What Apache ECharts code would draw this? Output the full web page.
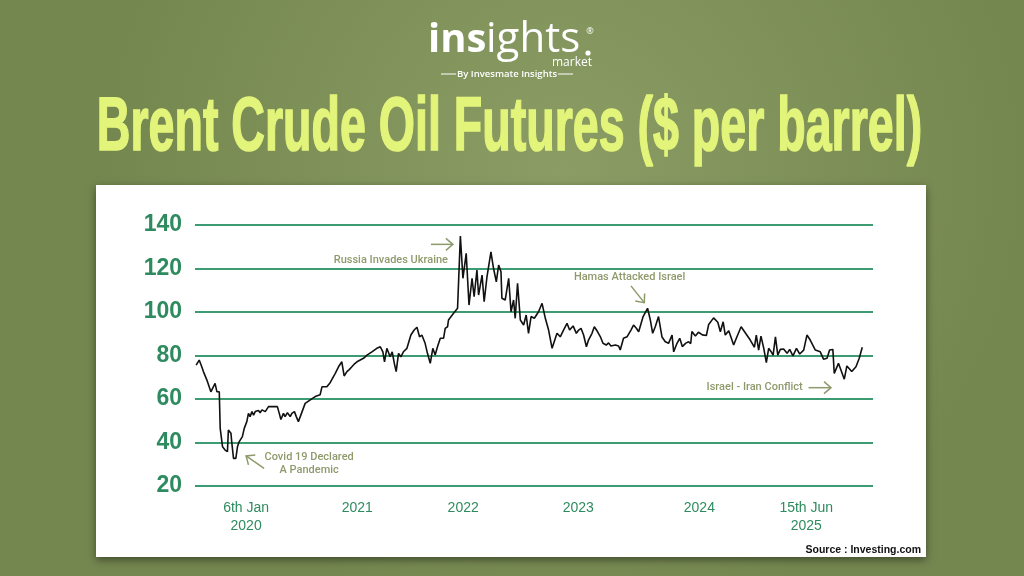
<!DOCTYPE html>
<html><head><meta charset="utf-8">
<script src="https://cdn.jsdelivr.net/npm/echarts@6/dist/echarts.min.js"></script>
<style>html,body{margin:0;padding:0;background:#7e9158}#c{width:1024px;height:576px}</style>
</head><body><div id="c"></div>
<script>
// weeks since 6 Jan 2020
const weeks = [0,1.3,2.4,3.1,3.9,4.6,5.3,6.3,7.0,8.1,8.9,9.9,10.3,11.3,12.4,13.4,13.8,14.9,15.3,16.0,17.0,17.7,18.4,19.2,19.8,20.6,21.7,22.4,23.1,23.9,24.6,25.3,26.0,26.7,27.4,28.2,29.6,31.0,33.1,34.8,35.6,36.3,37.4,38.1,39.1,40.3,41.0,42.1,42.9,43.8,44.6,46.7,48.9,51.0,53.1,53.9,56.0,57.4,59.6,61.0,62.4,63.4,64.6,65.6,66.7,67.7,68.9,70.3,71.7,73.2,75.3,77.4,78.9,80.0,80.7,81.7,83.1,84.0,84.9,85.7,86.7,87.7,88.8,90.3,92.0,93.4,94.6,95.7,96.7,98.1,99.1,100.3,101.4,102.4,103.4,104.6,106.0,106.7,107.7,108.1,110.3,112.0,113.2,114.3,115.7,116.9,118.2,119.1,120.3,121.0,122.5,123.4,124.6,126.3,127.4,128.6,129.6,130.6,131.0,132.4,133.9,134.9,136.0,136.7,137.7,138.9,140.3,141.4,142.4,143.5,144.9,146.7,148.2,149.6,151.0,152.5,153.9,154.6,156.0,157.4,158.9,160.0,161.5,162.9,163.9,164.9,166.0,167.2,168.1,169.6,170.6,172.0,173.2,174.3,175.7,176.7,177.7,179.6,181.0,181.7,183.1,184.6,186.3,187.4,188.6,189.6,191.5,193.4,194.6,195.6,196.7,198.1,199.6,201.0,202.4,203.9,204.6,205.9,207.2,208.3,209.8,211.0,211.9,212.4,213.9,215.2,216.9,218.6,219.6,221.7,223.5,224.6,225.8,226.7,228.2,230.3,231.7,233.5,235.7,237.4,239.2,240.0,241.0,242.0,243.2,244.3,245.3,246.2,247.2,248.2,249.2,250.3,251.7,253.2,254.3,255.7,257.2,258.6,260.3,261.7,263.1,265.3,267.4,268.8,270.3,271.4,272.8,273.4,275.2,277.7,278.8,280.9,282.7,284.1,285.4];
// Brent price, $ per barrel
const prices = [75.6,77.9,74.8,72.6,73.3,68.7,69.5,63.3,62.6,67.2,63.3,63.3,46.5,38,36.5,35.8,45.7,44.2,39.6,32.7,32.7,38,40.3,41.1,42.7,46.5,49.6,53.4,51.9,54.2,52.6,54.2,53.5,54.7,53.7,55,54.2,56.5,56.5,56.5,53.4,50.6,53.4,51.9,53.7,51.9,53.4,54.2,51.9,49.6,51.9,58,59.6,61.1,61.9,65.6,65.6,67.5,71.8,74.8,77.1,70.6,72.6,73.5,74.8,76,77.1,77.9,78.7,80.2,81.7,83.3,84,81.7,77.1,83.3,79.4,81.7,76.4,72.6,81,79.4,81.7,83.3,89.4,91.7,93,88.6,89.4,85.6,81,76.4,83.3,80.2,84,87.9,87.9,92.5,93.2,96.3,99.4,101.7,134.9,115.5,127,103.2,115.5,107,119.3,107.8,117,104.7,116.2,127.7,120.1,113.9,121.6,118.5,106.3,105.5,115.5,100.1,105.5,97.1,113.2,96.3,94,98.6,90.2,97.9,97.1,100.1,104,97.1,91.7,83.3,87.9,90.2,88.6,91.7,94.8,91.7,93.6,90.2,91.7,92.5,89.4,84,87.1,90.2,93.2,90.9,88.6,85.6,84.8,85.8,84.4,84.8,84.4,82.5,87.9,88.6,91.7,94,92.5,90.9,97.9,101.7,96.3,90.2,93.2,97.9,88.5,86.3,85.6,89.4,81.7,85.3,87.9,84.1,85.7,86.3,85.5,91,89,90.7,89.5,89.2,94.3,97.3,95.3,90.9,95.5,89.4,91.4,84.8,88.6,93.2,89.8,87.1,83.8,89.4,82.5,88.9,83.3,76.7,83.3,82,80.2,88.6,80.2,82.8,83,81,82.8,79.8,83.3,80.7,82.5,89.4,87.1,82.5,81.7,78.3,78.7,82.5,82.8,71.8,76.4,69.1,75.2,72.6,74.8,78.7,83.8];
const yTicks = [20, 40, 60, 80, 100, 120, 140];
const xTickWeeks = [21.4, 69, 114.4, 163.7, 215.6, 261.4];
const xTickLabels = ['6th Jan\n2020', '2021', '2022', '2023', '2024', '15th Jun\n2025'];
const annotations = [
  {text: 'Russia Invades Ukraine', at: [107.9, 123.9], align: 'right', arrow: [[100.6, 131.1], [110.0, 131.1]]},
  {text: 'Hamas Attacked Israel', at: [185.7, 116.2], align: 'center', arrow: [[186.3, 112.0], [192.0, 104.3]]},
  {text: 'Israel - Iran Conflict', at: [259.9, 65.2], align: 'right', arrow: [[262.4, 65.2], [272.0, 65.2]]},
  {text: 'Covid 19 Declared\nA Pandemic', at: [48.4, 30.2], align: 'center', arrow: [[29.1, 28.1], [21.4, 33.8]]}
];
const titleText = 'Brent Crude Oil Futures ($ per barrel)';
const sourceText = 'Source : Investing.com';

const n = Math.min(weeks.length, prices.length);
const seriesData = [];
for (let i = 0; i < n; i++) seriesData.push([weeks[i], prices[i]]);

const GREEN = '#2e8b5f', GRID = '#3c9b72', NOTE = '#8f9a6c';
const chart = echarts.init(document.getElementById('c'), null, {renderer: 'canvas'});

const staticGraphics = [
  {type: 'rect', id: 'bg', z: -10, shape: {x: 0, y: 0, width: 1024, height: 576}, silent: true,
    style: {fill: new echarts.graphic.RadialGradient(0.55, 0.3, 0.8, [
      {offset: 0, color: '#8b9d64'}, {offset: 1, color: '#74874f'}])}},
  {type: 'rect', id: 'panel', z: -5, shape: {x: 96, y: 185, width: 830, height: 372}, silent: true,
    style: {fill: '#ffffff', shadowBlur: 8, shadowOffsetY: 3, shadowColor: 'rgba(0,0,0,0.45)'}},
  {type: 'text', id: 'title', z: 5, x: 509.5, y: 129, scaleX: 0.776, scaleY: 1.28, silent: true,
    style: {text: titleText, fill: '#e3f47b', stroke: '#e3f47b', lineWidth: 1.3, font: 'bold 60px "Liberation Sans"', align: 'center', verticalAlign: 'middle'}},
  {type: 'text', id: 'logo1', z: 5, x: 428, y: 61, silent: true,
    style: {text: 'ins', fill: '#ffffff', font: 'bold 40px "Open Sans"', align: 'left', verticalAlign: 'bottom'}},
  {type: 'text', id: 'logo2', z: 5, x: 486, y: 61, silent: true,
    style: {text: 'ights', fill: '#ffffff', font: '500 42px "Open Sans"', align: 'left', verticalAlign: 'bottom'}},
  {type: 'circle', id: 'logodot', z: 5, shape: {cx: 588, cy: 53, r: 2.6}, style: {fill: '#ffffff'}},
  {type: 'text', id: 'logoR', z: 5, x: 590, y: 31, silent: true,
    style: {text: '®', fill: '#ffffff', font: '9px "Open Sans"', align: 'center', verticalAlign: 'middle'}},
  {type: 'text', id: 'logo3', z: 5, x: 592, y: 63, silent: true,
    style: {text: 'market', fill: '#ffffff', font: '12px "Open Sans"', align: 'right', verticalAlign: 'middle'}},
  {type: 'text', id: 'logo4', z: 5, x: 507, y: 74, silent: true,
    style: {text: 'By Invesmate Insights', fill: '#ffffff', font: '600 9.5px "Open Sans"', align: 'center', verticalAlign: 'middle'}},
  {type: 'line', id: 'll', z: 5, shape: {x1: 441, y1: 74, x2: 456, y2: 74}, style: {stroke: '#ffffff', lineWidth: 1}},
  {type: 'line', id: 'lr', z: 5, shape: {x1: 558, y1: 74, x2: 573, y2: 74}, style: {stroke: '#ffffff', lineWidth: 1}},
  {type: 'text', id: 'source', z: 5, x: 921, y: 550, silent: true,
    style: {text: sourceText, fill: '#111111', font: 'bold 10.5px "Liberation Sans"', align: 'right', verticalAlign: 'middle'}}
];

chart.setOption({
  animation: false,
  backgroundColor: '#7e9158',
  graphic: {elements: staticGraphics},
  grid: {left: 195, right: 151, top: 225, bottom: 90, containLabel: false},
  xAxis: {
    type: 'value', min: -0.5, max: 290,
    axisLine: {show: false}, axisTick: {show: false}, splitLine: {show: false},
    axisLabel: {
      customValues: xTickWeeks,
      formatter: function (v) {
        let best = 0;
        for (let i = 0; i < xTickWeeks.length; i++) if (Math.abs(xTickWeeks[i] - v) < Math.abs(xTickWeeks[best] - v)) best = i;
        return xTickLabels[best];
      },
      color: GREEN, fontFamily: 'Liberation Sans', fontSize: 14, lineHeight: 18, margin: 13
    }
  },
  yAxis: {
    type: 'value', min: yTicks[0], max: yTicks[yTicks.length - 1], interval: 20,
    axisLine: {show: false}, axisTick: {show: false},
    splitLine: {lineStyle: {color: GRID, width: 2}},
    axisLabel: {color: GREEN, fontFamily: 'Liberation Sans', fontWeight: 'bold', fontSize: 23, margin: 13}
  },
  series: [{
    type: 'line', data: seriesData, symbol: 'none', z: 3,
    lineStyle: {color: '#111111', width: 1.6}
  }]
});

// annotations anchored to data coordinates
const noteEls = [];
annotations.forEach(function (a, i) {
  const p = chart.convertToPixel({gridIndex: 0}, a.at);
  noteEls.push({type: 'text', id: 'note' + i, z: 6, x: p[0], y: p[1], silent: true,
    style: {text: a.text, fill: NOTE, font: '500 11px Roboto', align: a.align, verticalAlign: 'middle', lineHeight: 13}});
  const p0 = chart.convertToPixel({gridIndex: 0}, a.arrow[0]);
  const p1 = chart.convertToPixel({gridIndex: 0}, a.arrow[1]);
  const dx = p1[0] - p0[0], dy = p1[1] - p0[1];
  const L = Math.sqrt(dx * dx + dy * dy) || 1;
  const ux = dx / L, uy = dy / L, px = -uy, py = ux;
  const h = 7, w = 6;
  noteEls.push({type: 'polyline', id: 'arr' + i, z: 6, silent: true,
    shape: {points: [p0, p1]}, style: {stroke: NOTE, lineWidth: 1.5, fill: null}});
  noteEls.push({type: 'polyline', id: 'head' + i, z: 6, silent: true,
    shape: {points: [[p1[0] - h * ux + w * px, p1[1] - h * uy + w * py], p1, [p1[0] - h * ux - w * px, p1[1] - h * uy - w * py]]},
    style: {stroke: NOTE, lineWidth: 1.5, fill: null}});
});
chart.setOption({graphic: {elements: noteEls}});
</script></body></html>
